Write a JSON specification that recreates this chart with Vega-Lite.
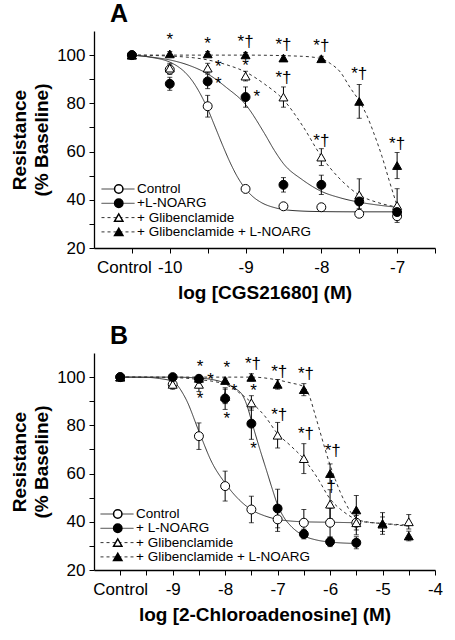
{
  "$schema": "https://vega.github.io/schema/vega-lite/v6.json",
  "padding": {"left": 10, "top": 2, "right": 5, "bottom": 2},
  "background": "white",
  "config": {
    "view": {"stroke": null},
    "font": "Liberation Sans",
    "axis": {"grid": false, "domainColor": "black", "domainWidth": 1.3, "tickColor": "black", "tickSize": 5, "tickWidth": 1, "labelFont": "Liberation Sans", "labelFontSize": 17, "labelColor": "black", "titleFont": "Liberation Sans", "titleFontSize": 19, "titleFontWeight": "bold", "titleColor": "black"},
    "legend": {"labelFont": "Liberation Sans", "labelFontSize": 13.5, "labelColor": "black", "labelLimit": 400, "clipHeight": 14}
  },
  "resolve": {
    "scale": {"shape": "independent", "fill": "independent", "strokeDash": "independent"},
    "legend": {"shape": "independent", "fill": "independent", "strokeDash": "independent"}
  },
  "spacing": 22,
  "datasets": {
    "ptsA": [
      {"g": "c", "x": -10.5, "y": 100, "e": 0},
      {"g": "c", "x": -10, "y": 94, "e": 2},
      {"g": "c", "x": -9.5, "y": 78.8, "e": 4.5},
      {"g": "c", "x": -9, "y": 44.5, "e": 1},
      {"g": "c", "x": -8.5, "y": 37.3, "e": 1},
      {"g": "c", "x": -8, "y": 36.9, "e": 1.5},
      {"g": "c", "x": -7.5, "y": 34.2, "e": 1},
      {"g": "c", "x": -7, "y": 33.2, "e": 1.5},
      {"g": "g", "x": -10.5, "y": 100, "e": 0},
      {"g": "g", "x": -10, "y": 94.6, "e": 2},
      {"g": "g", "x": -9.5, "y": 94.6, "e": 2},
      {"g": "g", "x": -9, "y": 91.3, "e": 2},
      {"g": "g", "x": -8.5, "y": 82.6, "e": 4.2},
      {"g": "g", "x": -8, "y": 57.7, "e": 3.5},
      {"g": "g", "x": -7.5, "y": 42, "e": 6.7},
      {"g": "g", "x": -7, "y": 37.6, "e": 7},
      {"g": "gn", "x": -10.5, "y": 100, "e": 0},
      {"g": "gn", "x": -10, "y": 100.5, "e": 1},
      {"g": "gn", "x": -9.5, "y": 100.5, "e": 1},
      {"g": "gn", "x": -9, "y": 100.1, "e": 1},
      {"g": "gn", "x": -8.5, "y": 98.8, "e": 1},
      {"g": "gn", "x": -8, "y": 98.5, "e": 1},
      {"g": "gn", "x": -7.5, "y": 80.8, "e": 7},
      {"g": "gn", "x": -7, "y": 54.2, "e": 5.4},
      {"g": "n", "x": -10.5, "y": 100, "e": 0},
      {"g": "n", "x": -10, "y": 88.1, "e": 2.7},
      {"g": "n", "x": -9.5, "y": 89.1, "e": 3},
      {"g": "n", "x": -9, "y": 82.6, "e": 4.2},
      {"g": "n", "x": -8.5, "y": 46.2, "e": 3},
      {"g": "n", "x": -8, "y": 46.2, "e": 4},
      {"g": "n", "x": -7.5, "y": 39.3, "e": 3},
      {"g": "n", "x": -7, "y": 34.9, "e": 2}
    ],
    "curA": [
      {"s": "Control", "x": -10.5, "y": 100}, {"s": "Control", "x": -10.25, "y": 99.1}, {"s": "Control", "x": -10, "y": 97.1},
      {"s": "Control", "x": -9.9, "y": 95.4}, {"s": "Control", "x": -9.8, "y": 92.9}, {"s": "Control", "x": -9.7, "y": 89.2},
      {"s": "Control", "x": -9.6, "y": 84.1}, {"s": "Control", "x": -9.5, "y": 77.7}, {"s": "Control", "x": -9.4, "y": 70.1},
      {"s": "Control", "x": -9.3, "y": 62.4}, {"s": "Control", "x": -9.2, "y": 55.2}, {"s": "Control", "x": -9.1, "y": 49.1},
      {"s": "Control", "x": -9, "y": 44.5}, {"s": "Control", "x": -8.9, "y": 41.2}, {"s": "Control", "x": -8.8, "y": 39},
      {"s": "Control", "x": -8.6, "y": 36.6}, {"s": "Control", "x": -8.4, "y": 35.6}, {"s": "Control", "x": -8, "y": 35.1},
      {"s": "Control", "x": -7.5, "y": 35}, {"s": "Control", "x": -7, "y": 35},
      {"s": "+L-NOARG", "x": -10.5, "y": 100}, {"s": "+L-NOARG", "x": -10.25, "y": 99.2}, {"s": "+L-NOARG", "x": -10, "y": 98},
      {"s": "+L-NOARG", "x": -9.75, "y": 95.8}, {"s": "+L-NOARG", "x": -9.5, "y": 92.2}, {"s": "+L-NOARG", "x": -9.25, "y": 86.5},
      {"s": "+L-NOARG", "x": -9, "y": 79.5}, {"s": "+L-NOARG", "x": -8.75, "y": 67.5}, {"s": "+L-NOARG", "x": -8.62, "y": 60.5},
      {"s": "+L-NOARG", "x": -8.5, "y": 55}, {"s": "+L-NOARG", "x": -8.25, "y": 48.3}, {"s": "+L-NOARG", "x": -8, "y": 43.5},
      {"s": "+L-NOARG", "x": -7.75, "y": 40.8}, {"s": "+L-NOARG", "x": -7.5, "y": 39}, {"s": "+L-NOARG", "x": -7.25, "y": 37.8},
      {"s": "+L-NOARG", "x": -7, "y": 36.9},
      {"s": "+ Glibenclamide", "x": -10.5, "y": 100}, {"s": "+ Glibenclamide", "x": -10, "y": 99.6}, {"s": "+ Glibenclamide", "x": -9.5, "y": 98},
      {"s": "+ Glibenclamide", "x": -9.25, "y": 96}, {"s": "+ Glibenclamide", "x": -9, "y": 93}, {"s": "+ Glibenclamide", "x": -8.75, "y": 88},
      {"s": "+ Glibenclamide", "x": -8.5, "y": 81.5}, {"s": "+ Glibenclamide", "x": -8.25, "y": 70.8}, {"s": "+ Glibenclamide", "x": -8, "y": 58},
      {"s": "+ Glibenclamide", "x": -7.75, "y": 48.5}, {"s": "+ Glibenclamide", "x": -7.5, "y": 42}, {"s": "+ Glibenclamide", "x": -7.25, "y": 38.8},
      {"s": "+ Glibenclamide", "x": -7, "y": 37},
      {"s": "+ Glibenclamide + L-NOARG", "x": -10.5, "y": 100}, {"s": "+ Glibenclamide + L-NOARG", "x": -9, "y": 100},
      {"s": "+ Glibenclamide + L-NOARG", "x": -8.25, "y": 99.5}, {"s": "+ Glibenclamide + L-NOARG", "x": -8, "y": 98.5},
      {"s": "+ Glibenclamide + L-NOARG", "x": -7.88, "y": 96.5}, {"s": "+ Glibenclamide + L-NOARG", "x": -7.75, "y": 93},
      {"s": "+ Glibenclamide + L-NOARG", "x": -7.62, "y": 86.5}, {"s": "+ Glibenclamide + L-NOARG", "x": -7.5, "y": 81},
      {"s": "+ Glibenclamide + L-NOARG", "x": -7.4, "y": 75}, {"s": "+ Glibenclamide + L-NOARG", "x": -7.3, "y": 67},
      {"s": "+ Glibenclamide + L-NOARG", "x": -7.2, "y": 58}, {"s": "+ Glibenclamide + L-NOARG", "x": -7.1, "y": 47.5},
      {"s": "+ Glibenclamide + L-NOARG", "x": -7, "y": 37.5}
    ],
    "annA": [
      {"x": -10, "y": 106.1, "t": "*"}, {"x": -9.5, "y": 104.7, "t": "*"}, {"x": -9, "y": 105.5, "t": "*†"},
      {"x": -8.5, "y": 104, "t": "*†"}, {"x": -8, "y": 103.7, "t": "*†"}, {"x": -7.5, "y": 92.2, "t": "*†"},
      {"x": -7, "y": 63.2, "t": "*†"}, {"x": -8.5, "y": 90.5, "t": "*†"}, {"x": -8, "y": 64.2, "t": "*†"},
      {"x": -9.36, "y": 95.2, "t": "*"}, {"x": -9.36, "y": 88.2, "t": "*"}, {"x": -9, "y": 95.4, "t": "*"},
      {"x": -8.85, "y": 82.6, "t": "*"}
    ],
    "ptsB": [
      {"g": "c", "x": -10, "y": 100, "e": 0},
      {"g": "c", "x": -9, "y": 97, "e": 1.5},
      {"g": "c", "x": -8.5, "y": 75.5, "e": 5.5},
      {"g": "c", "x": -8, "y": 54.8, "e": 6.2},
      {"g": "c", "x": -7.5, "y": 45.1, "e": 5.5},
      {"g": "c", "x": -7, "y": 41, "e": 5},
      {"g": "c", "x": -6.5, "y": 39.6, "e": 5.5},
      {"g": "c", "x": -6, "y": 39.6, "e": 6},
      {"g": "c", "x": -5.5, "y": 39.6, "e": 5},
      {"g": "g", "x": -10, "y": 100, "e": 0},
      {"g": "g", "x": -9, "y": 97, "e": 2},
      {"g": "g", "x": -8.5, "y": 97, "e": 3},
      {"g": "g", "x": -8, "y": 92, "e": 3},
      {"g": "g", "x": -7.5, "y": 89.3, "e": 3},
      {"g": "g", "x": -7, "y": 75.9, "e": 5.3},
      {"g": "g", "x": -6.5, "y": 66.2, "e": 6.2},
      {"g": "g", "x": -6, "y": 47.3, "e": 6},
      {"g": "g", "x": -5.5, "y": 39.6, "e": 3},
      {"g": "g", "x": -5, "y": 39, "e": 3},
      {"g": "g", "x": -4.5, "y": 40, "e": 3},
      {"g": "gn", "x": -10, "y": 100, "e": 0},
      {"g": "gn", "x": -8.5, "y": 99.5, "e": 1},
      {"g": "gn", "x": -8, "y": 98.6, "e": 1},
      {"g": "gn", "x": -7.5, "y": 99.9, "e": 1.5},
      {"g": "gn", "x": -7, "y": 97, "e": 2},
      {"g": "gn", "x": -6.5, "y": 94.8, "e": 2.5},
      {"g": "gn", "x": -6, "y": 60, "e": 4},
      {"g": "gn", "x": -5.5, "y": 44.9, "e": 6},
      {"g": "gn", "x": -5, "y": 39.3, "e": 4.5},
      {"g": "gn", "x": -4.5, "y": 34.1, "e": 2},
      {"g": "n", "x": -10, "y": 100, "e": 0},
      {"g": "n", "x": -9, "y": 100, "e": 0.5},
      {"g": "n", "x": -8.5, "y": 99.3, "e": 1},
      {"g": "n", "x": -8, "y": 91.1, "e": 4.5},
      {"g": "n", "x": -7.5, "y": 80.7, "e": 6.5},
      {"g": "n", "x": -7, "y": 45.5, "e": 8},
      {"g": "n", "x": -6.5, "y": 34.9, "e": 2},
      {"g": "n", "x": -6, "y": 31.7, "e": 2},
      {"g": "n", "x": -5.5, "y": 31.3, "e": 2.5}
    ],
    "curB": [
      {"s": "Control", "x": -10, "y": 100}, {"s": "Control", "x": -9.5, "y": 99.9}, {"s": "Control", "x": -9.25, "y": 99.4},
      {"s": "Control", "x": -9, "y": 98.2}, {"s": "Control", "x": -8.75, "y": 91}, {"s": "Control", "x": -8.5, "y": 77.5},
      {"s": "Control", "x": -8.25, "y": 64.5}, {"s": "Control", "x": -8, "y": 56}, {"s": "Control", "x": -7.75, "y": 49.5},
      {"s": "Control", "x": -7.5, "y": 45}, {"s": "Control", "x": -7.25, "y": 42.5}, {"s": "Control", "x": -7, "y": 41},
      {"s": "Control", "x": -6.75, "y": 40.3}, {"s": "Control", "x": -6.5, "y": 40}, {"s": "Control", "x": -6, "y": 39.8},
      {"s": "Control", "x": -5.5, "y": 39.6},
      {"s": "+ L-NOARG", "x": -10, "y": 100}, {"s": "+ L-NOARG", "x": -9, "y": 100}, {"s": "+ L-NOARG", "x": -8.5, "y": 99.6},
      {"s": "+ L-NOARG", "x": -8.25, "y": 99}, {"s": "+ L-NOARG", "x": -8, "y": 97.5}, {"s": "+ L-NOARG", "x": -7.83, "y": 95.5},
      {"s": "+ L-NOARG", "x": -7.67, "y": 92.5}, {"s": "+ L-NOARG", "x": -7.58, "y": 88}, {"s": "+ L-NOARG", "x": -7.5, "y": 82},
      {"s": "+ L-NOARG", "x": -7.42, "y": 76}, {"s": "+ L-NOARG", "x": -7.33, "y": 69.5}, {"s": "+ L-NOARG", "x": -7.2, "y": 60.5},
      {"s": "+ L-NOARG", "x": -7.1, "y": 53.5}, {"s": "+ L-NOARG", "x": -7, "y": 47}, {"s": "+ L-NOARG", "x": -6.87, "y": 41.5},
      {"s": "+ L-NOARG", "x": -6.75, "y": 38.3}, {"s": "+ L-NOARG", "x": -6.5, "y": 34.2}, {"s": "+ L-NOARG", "x": -6.25, "y": 32.4},
      {"s": "+ L-NOARG", "x": -6, "y": 31.6}, {"s": "+ L-NOARG", "x": -5.5, "y": 31},
      {"s": "+ Glibenclamide", "x": -10, "y": 100}, {"s": "+ Glibenclamide", "x": -9, "y": 99.8}, {"s": "+ Glibenclamide", "x": -8.5, "y": 99},
      {"s": "+ Glibenclamide", "x": -8, "y": 97}, {"s": "+ Glibenclamide", "x": -7.75, "y": 93.8}, {"s": "+ Glibenclamide", "x": -7.5, "y": 89.5},
      {"s": "+ Glibenclamide", "x": -7.25, "y": 84}, {"s": "+ Glibenclamide", "x": -7, "y": 76.5}, {"s": "+ Glibenclamide", "x": -6.75, "y": 71.5},
      {"s": "+ Glibenclamide", "x": -6.5, "y": 66}, {"s": "+ Glibenclamide", "x": -6.25, "y": 58.5}, {"s": "+ Glibenclamide", "x": -6, "y": 49.5},
      {"s": "+ Glibenclamide", "x": -5.75, "y": 44.3}, {"s": "+ Glibenclamide", "x": -5.5, "y": 41}, {"s": "+ Glibenclamide", "x": -5.25, "y": 39.8},
      {"s": "+ Glibenclamide", "x": -5, "y": 39.3}, {"s": "+ Glibenclamide", "x": -4.5, "y": 38.6},
      {"s": "+ Glibenclamide + L-NOARG", "x": -10, "y": 100}, {"s": "+ Glibenclamide + L-NOARG", "x": -7.5, "y": 100},
      {"s": "+ Glibenclamide + L-NOARG", "x": -7, "y": 98.8}, {"s": "+ Glibenclamide + L-NOARG", "x": -6.75, "y": 97.6},
      {"s": "+ Glibenclamide + L-NOARG", "x": -6.5, "y": 96}, {"s": "+ Glibenclamide + L-NOARG", "x": -6.4, "y": 92.5},
      {"s": "+ Glibenclamide + L-NOARG", "x": -6.3, "y": 85.5}, {"s": "+ Glibenclamide + L-NOARG", "x": -6.2, "y": 78},
      {"s": "+ Glibenclamide + L-NOARG", "x": -6.1, "y": 70.5}, {"s": "+ Glibenclamide + L-NOARG", "x": -6, "y": 63.5},
      {"s": "+ Glibenclamide + L-NOARG", "x": -5.9, "y": 57.5}, {"s": "+ Glibenclamide + L-NOARG", "x": -5.8, "y": 52},
      {"s": "+ Glibenclamide + L-NOARG", "x": -5.7, "y": 47.5}, {"s": "+ Glibenclamide + L-NOARG", "x": -5.6, "y": 43.8},
      {"s": "+ Glibenclamide + L-NOARG", "x": -5.5, "y": 41.5}, {"s": "+ Glibenclamide + L-NOARG", "x": -5.4, "y": 40.2},
      {"s": "+ Glibenclamide + L-NOARG", "x": -5.2, "y": 39.6}, {"s": "+ Glibenclamide + L-NOARG", "x": -5, "y": 39.3},
      {"s": "+ Glibenclamide + L-NOARG", "x": -4.75, "y": 38.7}, {"s": "+ Glibenclamide + L-NOARG", "x": -4.5, "y": 38.2}
    ],
    "annB": [
      {"x": -8.48, "y": 104.1, "t": "*"}, {"x": -7.97, "y": 103.9, "t": "*"}, {"x": -7.47, "y": 105.5, "t": "*†"},
      {"x": -8.28, "y": 98.9, "t": "*"}, {"x": -7.83, "y": 94.2, "t": "*"}, {"x": -8.48, "y": 91, "t": "*"},
      {"x": -7.97, "y": 82.8, "t": "*"}, {"x": -7.46, "y": 94.2, "t": "*"}, {"x": -7.46, "y": 70, "t": "*"},
      {"x": -6.97, "y": 102.1, "t": "*†"}, {"x": -6.46, "y": 101.1, "t": "*†"}, {"x": -6.97, "y": 84.2, "t": "*†"},
      {"x": -6.46, "y": 76.3, "t": "*†"}, {"x": -5.95, "y": 69.4, "t": "*†"}, {"x": -5.98, "y": 54.5, "t": "†"}
    ]
  },
  "vconcat": [
    {
      "title": {"text": "A", "anchor": "start", "frame": "group", "dx": 16, "fontSize": 25, "fontWeight": "bold", "font": "Liberation Sans", "color": "black", "offset": 4},
      "width": 341,
      "height": 217,
      "encoding": {
        "x": {"field": "x", "type": "quantitative", "scale": {"domain": [-11, -6.5], "nice": false, "zero": false},
          "axis": {"title": "log [CGS21680] (M)", "values": [-10.5, -10, -9.5, -9, -8.5, -8, -7.5, -7, -6.5],
            "labelExpr": "datum.value == -10.5 ? 'Control' : (datum.value % 1 == 0 ? '' + datum.value : '')",
            "labelPadding": 6, "titlePadding": 8, "labelFlush": false, "labelOverlap": false,
            "labelOffset": {"condition": {"test": "datum.value == -10.5", "value": -8}, "value": 0}}},
        "y": {"field": "y", "type": "quantitative", "scale": {"domain": [20, 110], "nice": false, "zero": false},
          "axis": {"title": ["Resistance", "(% Baseline)"], "titleLineHeight": 22, "values": [20, 30, 40, 50, 60, 70, 80, 90, 100],
            "labelExpr": "datum.value % 20 == 0 ? '' + datum.value : ''", "labelPadding": 4, "titlePadding": 5, "labelFlush": false, "labelOverlap": false}}
      },
      "layer": [
        {"data": {"name": "curA"}, "mark": {"type": "line", "interpolate": "monotone", "color": "#333", "strokeWidth": 1},
          "encoding": {"strokeDash": {"field": "s", "type": "nominal",
            "scale": {"domain": ["Control", "+L-NOARG", "+ Glibenclamide", "+ Glibenclamide + L-NOARG"], "range": [[1, 0], [1, 0], [3, 3], [3, 3]]},
            "legend": {"orient": "none", "legendX": 7, "legendY": 151, "title": null, "symbolType": "stroke", "symbolSize": 1089, "symbolStrokeColor": "#333", "symbolStrokeWidth": 1, "labelOffset": 2, "rowPadding": 0.3}}}},
        {"data": {"name": "ptsA"}, "mark": {"type": "errorbar", "ticks": {"size": 5}, "color": "black", "thickness": 1},
          "encoding": {"yError": {"field": "e"}}},
        {"data": {"name": "ptsA"}, "mark": {"type": "point", "filled": true, "stroke": "black", "strokeWidth": 1, "size": 80, "opacity": 1},
          "encoding": {
            "shape": {"field": "g", "type": "nominal", "scale": {"domain": ["c", "n", "g", "gn"], "range": ["circle", "circle", "triangle-up", "triangle-up"]},
              "legend": {"orient": "none", "legendX": 18, "legendY": 151, "title": null, "symbolSize": 70, "labelExpr": "''", "rowPadding": 0.3,
                "encode": {"symbols": {"update": {"stroke": {"value": "black"}, "strokeWidth": {"value": 1}}}}}},
            "fill": {"field": "g", "type": "nominal", "scale": {"domain": ["c", "n", "g", "gn"], "range": ["white", "black", "white", "black"]},
              "legend": {"orient": "none", "legendX": 18, "legendY": 151, "title": null, "symbolSize": 70, "labelExpr": "''", "rowPadding": 0.3,
                "encode": {"symbols": {"update": {"stroke": {"value": "black"}, "strokeWidth": {"value": 1}}}}}}
          }},
        {"data": {"name": "annA"}, "mark": {"type": "text", "fontSize": 17, "font": "Liberation Sans", "color": "black", "baseline": "middle", "align": "center"},
          "encoding": {"text": {"field": "t"}}}
      ]
    },
    {
      "title": {"text": "B", "anchor": "start", "frame": "group", "dx": 16, "fontSize": 25, "fontWeight": "bold", "font": "Liberation Sans", "color": "black", "offset": 4},
      "width": 341,
      "height": 217,
      "encoding": {
        "x": {"field": "x", "type": "quantitative", "scale": {"domain": [-10.5, -4], "nice": false, "zero": false},
          "axis": {"title": "log [2-Chloroadenosine] (M)", "values": [-10, -9.5, -9, -8.5, -8, -7.5, -7, -6.5, -6, -5.5, -5, -4.5, -4],
            "labelExpr": "datum.value == -10 ? 'Control' : (datum.value % 1 == 0 ? '' + datum.value : '')",
            "labelPadding": 6, "titlePadding": 8, "labelFlush": false, "labelOverlap": false}},
        "y": {"field": "y", "type": "quantitative", "scale": {"domain": [20, 110], "nice": false, "zero": false},
          "axis": {"title": ["Resistance", "(% Baseline)"], "titleLineHeight": 22, "values": [20, 30, 40, 50, 60, 70, 80, 90, 100],
            "labelExpr": "datum.value % 20 == 0 ? '' + datum.value : ''", "labelPadding": 4, "titlePadding": 5, "labelFlush": false, "labelOverlap": false}}
      },
      "layer": [
        {"data": {"name": "curB"}, "mark": {"type": "line", "interpolate": "monotone", "color": "#333", "strokeWidth": 1},
          "encoding": {"strokeDash": {"field": "s", "type": "nominal",
            "scale": {"domain": ["Control", "+ L-NOARG", "+ Glibenclamide", "+ Glibenclamide + L-NOARG"], "range": [[1, 0], [1, 0], [3, 3], [3, 3]]},
            "legend": {"orient": "none", "legendX": 6, "legendY": 154, "title": null, "symbolType": "stroke", "symbolSize": 1089, "symbolStrokeColor": "#333", "symbolStrokeWidth": 1, "labelOffset": 2, "rowPadding": 0.3}}}},
        {"data": {"name": "ptsB"}, "mark": {"type": "errorbar", "ticks": {"size": 5}, "color": "black", "thickness": 1},
          "encoding": {"yError": {"field": "e"}}},
        {"data": {"name": "ptsB"}, "mark": {"type": "point", "filled": true, "stroke": "black", "strokeWidth": 1, "size": 80, "opacity": 1},
          "encoding": {
            "shape": {"field": "g", "type": "nominal", "scale": {"domain": ["c", "n", "g", "gn"], "range": ["circle", "circle", "triangle-up", "triangle-up"]},
              "legend": {"orient": "none", "legendX": 17, "legendY": 154, "title": null, "symbolSize": 70, "labelExpr": "''", "rowPadding": 0.3,
                "encode": {"symbols": {"update": {"stroke": {"value": "black"}, "strokeWidth": {"value": 1}}}}}},
            "fill": {"field": "g", "type": "nominal", "scale": {"domain": ["c", "n", "g", "gn"], "range": ["white", "black", "white", "black"]},
              "legend": {"orient": "none", "legendX": 17, "legendY": 154, "title": null, "symbolSize": 70, "labelExpr": "''", "rowPadding": 0.3,
                "encode": {"symbols": {"update": {"stroke": {"value": "black"}, "strokeWidth": {"value": 1}}}}}}
          }},
        {"data": {"name": "annB"}, "mark": {"type": "text", "fontSize": 17, "font": "Liberation Sans", "color": "black", "baseline": "middle", "align": "center"},
          "encoding": {"text": {"field": "t"}}}
      ]
    }
  ]
}
